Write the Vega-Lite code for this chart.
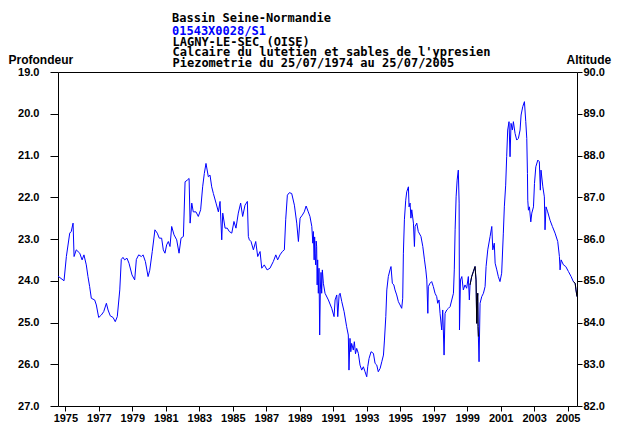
{
  "$schema": "https://vega.github.io/schema/vega-lite/v6.json",
  "width": 519,
  "height": 334,
  "autosize": {"type": "none"},
  "padding": {"left": 58, "top": 72, "right": 46, "bottom": 17},
  "background": "white",
  "config": {
    "view": {"stroke": "#000000", "strokeWidth": 1},
    "axis": {"grid": false, "domain": false, "labelFont": "Liberation Sans", "labelFontWeight": "bold", "labelFontSize": 11, "labelColor": "#000", "tickColor": "#000", "titleFont": "Liberation Sans", "titleFontWeight": "bold", "titleFontSize": 12, "titleColor": "#000"}
  },
  "title": {
    "text": "Bassin Seine-Normandie",
    "subtitle": "01543X0028/S1",
    "anchor": "start",
    "frame": "group",
    "dx": 114,
    "offset": -3,
    "subtitlePadding": 1,
    "font": "DejaVu Sans Mono",
    "fontSize": 12,
    "fontWeight": "bold",
    "color": "#000000",
    "subtitleFont": "DejaVu Sans Mono",
    "subtitleFontSize": 12,
    "subtitleFontWeight": "bold",
    "subtitleColor": "#0000ff"
  },
  "data": {"values": [
    {"a": 1974.56, "p": 23.89, "seg": 0},
    {"a": 1974.92, "p": 24.0, "seg": 0},
    {"a": 1975.06, "p": 23.42, "seg": 0},
    {"a": 1975.26, "p": 22.86, "seg": 0},
    {"a": 1975.35, "p": 22.82, "seg": 0},
    {"a": 1975.46, "p": 22.62, "seg": 0},
    {"a": 1975.52, "p": 23.42, "seg": 0},
    {"a": 1975.65, "p": 23.26, "seg": 0},
    {"a": 1975.86, "p": 23.34, "seg": 0},
    {"a": 1976.0, "p": 23.5, "seg": 0},
    {"a": 1976.11, "p": 23.38, "seg": 0},
    {"a": 1976.25, "p": 23.62, "seg": 0},
    {"a": 1976.35, "p": 23.9, "seg": 0},
    {"a": 1976.45, "p": 24.14, "seg": 0},
    {"a": 1976.55, "p": 24.42, "seg": 0},
    {"a": 1976.75, "p": 24.46, "seg": 0},
    {"a": 1976.85, "p": 24.58, "seg": 0},
    {"a": 1976.99, "p": 24.88, "seg": 0},
    {"a": 1977.15, "p": 24.82, "seg": 0},
    {"a": 1977.29, "p": 24.74, "seg": 0},
    {"a": 1977.45, "p": 24.54, "seg": 0},
    {"a": 1977.55, "p": 24.7, "seg": 0},
    {"a": 1977.68, "p": 24.84, "seg": 0},
    {"a": 1977.85, "p": 24.88, "seg": 0},
    {"a": 1977.98, "p": 24.98, "seg": 0},
    {"a": 1978.1, "p": 24.86, "seg": 0},
    {"a": 1978.25, "p": 24.22, "seg": 0},
    {"a": 1978.34, "p": 23.49, "seg": 0},
    {"a": 1978.44, "p": 23.44, "seg": 0},
    {"a": 1978.54, "p": 23.5, "seg": 0},
    {"a": 1978.68, "p": 23.46, "seg": 0},
    {"a": 1978.8, "p": 23.58, "seg": 0},
    {"a": 1978.98, "p": 23.86, "seg": 0},
    {"a": 1979.14, "p": 23.98, "seg": 0},
    {"a": 1979.24, "p": 23.49, "seg": 0},
    {"a": 1979.38, "p": 23.38, "seg": 0},
    {"a": 1979.54, "p": 23.42, "seg": 0},
    {"a": 1979.64, "p": 23.38, "seg": 0},
    {"a": 1979.78, "p": 23.54, "seg": 0},
    {"a": 1979.94, "p": 23.9, "seg": 0},
    {"a": 1980.04, "p": 23.75, "seg": 0},
    {"a": 1980.19, "p": 23.3, "seg": 0},
    {"a": 1980.35, "p": 22.78, "seg": 0},
    {"a": 1980.49, "p": 22.86, "seg": 0},
    {"a": 1980.61, "p": 22.98, "seg": 0},
    {"a": 1980.75, "p": 22.98, "seg": 0},
    {"a": 1980.85, "p": 23.26, "seg": 0},
    {"a": 1980.95, "p": 23.34, "seg": 0},
    {"a": 1981.05, "p": 23.14, "seg": 0},
    {"a": 1981.15, "p": 23.06, "seg": 0},
    {"a": 1981.25, "p": 23.18, "seg": 0},
    {"a": 1981.35, "p": 22.7, "seg": 0},
    {"a": 1981.49, "p": 22.9, "seg": 0},
    {"a": 1981.65, "p": 23.02, "seg": 0},
    {"a": 1981.79, "p": 23.34, "seg": 0},
    {"a": 1981.91, "p": 22.98, "seg": 0},
    {"a": 1982.05, "p": 22.94, "seg": 0},
    {"a": 1982.15, "p": 21.63, "seg": 0},
    {"a": 1982.28, "p": 21.59, "seg": 0},
    {"a": 1982.39, "p": 21.55, "seg": 0},
    {"a": 1982.45, "p": 22.62, "seg": 0},
    {"a": 1982.55, "p": 22.14, "seg": 0},
    {"a": 1982.64, "p": 22.35, "seg": 0},
    {"a": 1982.8, "p": 22.35, "seg": 0},
    {"a": 1982.94, "p": 22.46, "seg": 0},
    {"a": 1983.08, "p": 22.3, "seg": 0},
    {"a": 1983.2, "p": 21.75, "seg": 0},
    {"a": 1983.3, "p": 21.43, "seg": 0},
    {"a": 1983.4, "p": 21.19, "seg": 0},
    {"a": 1983.54, "p": 21.51, "seg": 0},
    {"a": 1983.64, "p": 21.47, "seg": 0},
    {"a": 1983.74, "p": 21.75, "seg": 0},
    {"a": 1983.84, "p": 21.91, "seg": 0},
    {"a": 1984.0, "p": 22.14, "seg": 0},
    {"a": 1984.14, "p": 22.35, "seg": 0},
    {"a": 1984.24, "p": 22.1, "seg": 0},
    {"a": 1984.34, "p": 23.02, "seg": 0},
    {"a": 1984.4, "p": 22.38, "seg": 0},
    {"a": 1984.54, "p": 22.74, "seg": 0},
    {"a": 1984.67, "p": 22.74, "seg": 0},
    {"a": 1984.79, "p": 22.82, "seg": 0},
    {"a": 1984.94, "p": 22.86, "seg": 0},
    {"a": 1985.07, "p": 22.58, "seg": 0},
    {"a": 1985.19, "p": 22.74, "seg": 0},
    {"a": 1985.33, "p": 22.38, "seg": 0},
    {"a": 1985.47, "p": 22.14, "seg": 0},
    {"a": 1985.59, "p": 22.46, "seg": 0},
    {"a": 1985.73, "p": 22.19, "seg": 0},
    {"a": 1985.87, "p": 22.1, "seg": 0},
    {"a": 1985.93, "p": 22.94, "seg": 0},
    {"a": 1985.99, "p": 23.02, "seg": 0},
    {"a": 1986.09, "p": 23.06, "seg": 0},
    {"a": 1986.23, "p": 23.26, "seg": 0},
    {"a": 1986.37, "p": 23.06, "seg": 0},
    {"a": 1986.49, "p": 23.42, "seg": 0},
    {"a": 1986.63, "p": 23.3, "seg": 0},
    {"a": 1986.73, "p": 23.7, "seg": 0},
    {"a": 1986.88, "p": 23.62, "seg": 0},
    {"a": 1987.05, "p": 23.74, "seg": 0},
    {"a": 1987.22, "p": 23.7, "seg": 0},
    {"a": 1987.42, "p": 23.54, "seg": 0},
    {"a": 1987.57, "p": 23.38, "seg": 0},
    {"a": 1987.68, "p": 23.5, "seg": 0},
    {"a": 1987.82, "p": 23.38, "seg": 0},
    {"a": 1987.96, "p": 23.3, "seg": 0},
    {"a": 1988.08, "p": 23.26, "seg": 0},
    {"a": 1988.16, "p": 22.54, "seg": 0},
    {"a": 1988.26, "p": 21.95, "seg": 0},
    {"a": 1988.38, "p": 21.89, "seg": 0},
    {"a": 1988.52, "p": 21.91, "seg": 0},
    {"a": 1988.68, "p": 22.19, "seg": 0},
    {"a": 1988.82, "p": 22.62, "seg": 0},
    {"a": 1988.92, "p": 23.06, "seg": 0},
    {"a": 1989.02, "p": 22.5, "seg": 0},
    {"a": 1989.15, "p": 22.43, "seg": 0},
    {"a": 1989.27, "p": 22.35, "seg": 0},
    {"a": 1989.38, "p": 22.21, "seg": 0},
    {"a": 1989.51, "p": 22.35, "seg": 0},
    {"a": 1989.61, "p": 22.46, "seg": 0},
    {"a": 1989.72, "p": 22.7, "seg": 0},
    {"a": 1989.78, "p": 23.1, "seg": 0},
    {"a": 1989.81, "p": 22.82, "seg": 0},
    {"a": 1989.86, "p": 23.5, "seg": 0},
    {"a": 1989.89, "p": 22.95, "seg": 0},
    {"a": 1989.91, "p": 23.34, "seg": 0},
    {"a": 1989.95, "p": 23.62, "seg": 0},
    {"a": 1989.98, "p": 23.05, "seg": 0},
    {"a": 1990.01, "p": 23.18, "seg": 0},
    {"a": 1990.04, "p": 24.1, "seg": 0},
    {"a": 1990.07, "p": 23.5, "seg": 0},
    {"a": 1990.11, "p": 24.3, "seg": 0},
    {"a": 1990.15, "p": 23.7, "seg": 0},
    {"a": 1990.19, "p": 25.3, "seg": 0},
    {"a": 1990.23, "p": 24.22, "seg": 0},
    {"a": 1990.27, "p": 23.8, "seg": 0},
    {"a": 1990.31, "p": 24.3, "seg": 0},
    {"a": 1990.35, "p": 23.74, "seg": 0},
    {"a": 1990.41, "p": 24.06, "seg": 0},
    {"a": 1990.51, "p": 24.3, "seg": 0},
    {"a": 1990.71, "p": 24.46, "seg": 0},
    {"a": 1990.91, "p": 24.66, "seg": 0},
    {"a": 1991.05, "p": 24.86, "seg": 0},
    {"a": 1991.11, "p": 24.46, "seg": 0},
    {"a": 1991.21, "p": 24.34, "seg": 0},
    {"a": 1991.27, "p": 24.86, "seg": 0},
    {"a": 1991.35, "p": 24.34, "seg": 0},
    {"a": 1991.41, "p": 24.3, "seg": 0},
    {"a": 1991.51, "p": 24.5, "seg": 0},
    {"a": 1991.65, "p": 24.74, "seg": 0},
    {"a": 1991.8, "p": 25.1, "seg": 0},
    {"a": 1991.9, "p": 25.3, "seg": 0},
    {"a": 1991.94, "p": 26.14, "seg": 0},
    {"a": 1992.0, "p": 25.38, "seg": 0},
    {"a": 1992.05, "p": 25.7, "seg": 0},
    {"a": 1992.1, "p": 25.5, "seg": 0},
    {"a": 1992.2, "p": 25.66, "seg": 0},
    {"a": 1992.26, "p": 25.46, "seg": 0},
    {"a": 1992.33, "p": 25.75, "seg": 0},
    {"a": 1992.4, "p": 25.62, "seg": 0},
    {"a": 1992.5, "p": 25.74, "seg": 0},
    {"a": 1992.6, "p": 26.02, "seg": 0},
    {"a": 1992.7, "p": 26.14, "seg": 0},
    {"a": 1992.8, "p": 26.06, "seg": 0},
    {"a": 1992.9, "p": 26.18, "seg": 0},
    {"a": 1993.0, "p": 26.3, "seg": 0},
    {"a": 1993.06, "p": 26.06, "seg": 0},
    {"a": 1993.14, "p": 25.86, "seg": 0},
    {"a": 1993.26, "p": 25.7, "seg": 0},
    {"a": 1993.4, "p": 25.74, "seg": 0},
    {"a": 1993.5, "p": 25.98, "seg": 0},
    {"a": 1993.6, "p": 26.02, "seg": 0},
    {"a": 1993.69, "p": 26.18, "seg": 0},
    {"a": 1993.8, "p": 26.1, "seg": 0},
    {"a": 1993.9, "p": 25.94, "seg": 0},
    {"a": 1994.0, "p": 25.78, "seg": 0},
    {"a": 1994.06, "p": 25.42, "seg": 0},
    {"a": 1994.14, "p": 24.86, "seg": 0},
    {"a": 1994.2, "p": 24.22, "seg": 0},
    {"a": 1994.29, "p": 23.9, "seg": 0},
    {"a": 1994.39, "p": 23.74, "seg": 0},
    {"a": 1994.45, "p": 23.66, "seg": 0},
    {"a": 1994.53, "p": 24.06, "seg": 0},
    {"a": 1994.62, "p": 24.1, "seg": 0},
    {"a": 1994.69, "p": 24.22, "seg": 0},
    {"a": 1994.79, "p": 24.34, "seg": 0},
    {"a": 1994.89, "p": 24.5, "seg": 0},
    {"a": 1994.99, "p": 24.58, "seg": 0},
    {"a": 1995.09, "p": 24.66, "seg": 0},
    {"a": 1995.15, "p": 24.42, "seg": 0},
    {"a": 1995.19, "p": 23.34, "seg": 0},
    {"a": 1995.25, "p": 22.54, "seg": 0},
    {"a": 1995.33, "p": 22.07, "seg": 0},
    {"a": 1995.39, "p": 21.87, "seg": 0},
    {"a": 1995.49, "p": 21.75, "seg": 0},
    {"a": 1995.53, "p": 22.23, "seg": 0},
    {"a": 1995.59, "p": 22.14, "seg": 0},
    {"a": 1995.64, "p": 22.5, "seg": 0},
    {"a": 1995.69, "p": 22.3, "seg": 0},
    {"a": 1995.79, "p": 22.62, "seg": 0},
    {"a": 1995.85, "p": 23.18, "seg": 0},
    {"a": 1995.89, "p": 22.7, "seg": 0},
    {"a": 1995.99, "p": 22.62, "seg": 0},
    {"a": 1996.08, "p": 22.82, "seg": 0},
    {"a": 1996.24, "p": 22.94, "seg": 0},
    {"a": 1996.35, "p": 23.18, "seg": 0},
    {"a": 1996.45, "p": 23.5, "seg": 0},
    {"a": 1996.53, "p": 23.74, "seg": 0},
    {"a": 1996.59, "p": 23.98, "seg": 0},
    {"a": 1996.65, "p": 24.78, "seg": 0},
    {"a": 1996.68, "p": 24.14, "seg": 0},
    {"a": 1996.78, "p": 24.06, "seg": 0},
    {"a": 1996.88, "p": 24.02, "seg": 0},
    {"a": 1996.98, "p": 24.14, "seg": 0},
    {"a": 1997.08, "p": 24.3, "seg": 0},
    {"a": 1997.18, "p": 24.38, "seg": 0},
    {"a": 1997.24, "p": 24.54, "seg": 0},
    {"a": 1997.32, "p": 24.46, "seg": 0},
    {"a": 1997.38, "p": 24.78, "seg": 0},
    {"a": 1997.48, "p": 25.18, "seg": 0},
    {"a": 1997.54, "p": 24.7, "seg": 0},
    {"a": 1997.62, "p": 25.78, "seg": 0},
    {"a": 1997.68, "p": 24.78, "seg": 0},
    {"a": 1997.78, "p": 24.7, "seg": 0},
    {"a": 1997.88, "p": 24.66, "seg": 0},
    {"a": 1997.98, "p": 24.62, "seg": 0},
    {"a": 1998.08, "p": 24.46, "seg": 0},
    {"a": 1998.18, "p": 24.3, "seg": 0},
    {"a": 1998.23, "p": 23.74, "seg": 0},
    {"a": 1998.28, "p": 22.78, "seg": 0},
    {"a": 1998.34, "p": 21.99, "seg": 0},
    {"a": 1998.4, "p": 21.59, "seg": 0},
    {"a": 1998.47, "p": 21.35, "seg": 0},
    {"a": 1998.52, "p": 22.14, "seg": 0},
    {"a": 1998.54, "p": 25.18, "seg": 0},
    {"a": 1998.6, "p": 23.98, "seg": 0},
    {"a": 1998.68, "p": 23.9, "seg": 0},
    {"a": 1998.77, "p": 24.22, "seg": 0},
    {"a": 1998.87, "p": 24.1, "seg": 0},
    {"a": 1998.97, "p": 24.18, "seg": 0},
    {"a": 1999.07, "p": 23.9, "seg": 0},
    {"a": 1999.13, "p": 24.46, "seg": 0},
    {"a": 1999.17, "p": 24.1, "seg": 1},
    {"a": 1999.27, "p": 23.9, "seg": 1},
    {"a": 1999.37, "p": 23.78, "seg": 1},
    {"a": 1999.47, "p": 23.66, "seg": 1},
    {"a": 1999.53, "p": 23.98, "seg": 1},
    {"a": 1999.57, "p": 25.02, "seg": 1},
    {"a": 1999.6, "p": 24.5, "seg": 1},
    {"a": 1999.63, "p": 24.3, "seg": 1},
    {"a": 1999.65, "p": 25.1, "seg": 1},
    {"a": 1999.67, "p": 25.34, "seg": 1},
    {"a": 1999.71, "p": 25.94, "seg": 0},
    {"a": 1999.77, "p": 24.54, "seg": 0},
    {"a": 1999.87, "p": 24.38, "seg": 0},
    {"a": 1999.97, "p": 24.3, "seg": 0},
    {"a": 2000.07, "p": 24.14, "seg": 0},
    {"a": 2000.13, "p": 23.66, "seg": 0},
    {"a": 2000.23, "p": 23.26, "seg": 0},
    {"a": 2000.37, "p": 22.94, "seg": 0},
    {"a": 2000.47, "p": 22.7, "seg": 0},
    {"a": 2000.53, "p": 23.26, "seg": 0},
    {"a": 2000.62, "p": 23.1, "seg": 0},
    {"a": 2000.67, "p": 23.58, "seg": 0},
    {"a": 2000.77, "p": 23.74, "seg": 0},
    {"a": 2000.86, "p": 23.9, "seg": 0},
    {"a": 2000.96, "p": 24.02, "seg": 0},
    {"a": 2001.06, "p": 23.82, "seg": 0},
    {"a": 2001.16, "p": 22.86, "seg": 0},
    {"a": 2001.22, "p": 22.23, "seg": 0},
    {"a": 2001.3, "p": 21.71, "seg": 0},
    {"a": 2001.36, "p": 21.03, "seg": 0},
    {"a": 2001.42, "p": 20.39, "seg": 0},
    {"a": 2001.5, "p": 20.19, "seg": 0},
    {"a": 2001.56, "p": 21.03, "seg": 0},
    {"a": 2001.62, "p": 20.23, "seg": 0},
    {"a": 2001.7, "p": 20.39, "seg": 0},
    {"a": 2001.76, "p": 20.19, "seg": 0},
    {"a": 2001.86, "p": 20.47, "seg": 0},
    {"a": 2001.96, "p": 20.63, "seg": 0},
    {"a": 2002.06, "p": 20.59, "seg": 0},
    {"a": 2002.16, "p": 20.39, "seg": 0},
    {"a": 2002.22, "p": 20.03, "seg": 0},
    {"a": 2002.32, "p": 19.83, "seg": 0},
    {"a": 2002.42, "p": 19.71, "seg": 0},
    {"a": 2002.5, "p": 20.19, "seg": 0},
    {"a": 2002.56, "p": 20.59, "seg": 0},
    {"a": 2002.6, "p": 21.43, "seg": 0},
    {"a": 2002.62, "p": 22.07, "seg": 0},
    {"a": 2002.66, "p": 22.31, "seg": 0},
    {"a": 2002.72, "p": 22.23, "seg": 0},
    {"a": 2002.8, "p": 22.59, "seg": 0},
    {"a": 2002.86, "p": 22.38, "seg": 0},
    {"a": 2002.96, "p": 22.23, "seg": 0},
    {"a": 2003.02, "p": 21.67, "seg": 0},
    {"a": 2003.1, "p": 21.27, "seg": 0},
    {"a": 2003.22, "p": 21.11, "seg": 0},
    {"a": 2003.31, "p": 21.15, "seg": 0},
    {"a": 2003.37, "p": 21.83, "seg": 0},
    {"a": 2003.41, "p": 21.35, "seg": 0},
    {"a": 2003.52, "p": 21.75, "seg": 0},
    {"a": 2003.61, "p": 21.99, "seg": 0},
    {"a": 2003.65, "p": 22.78, "seg": 0},
    {"a": 2003.71, "p": 22.23, "seg": 0},
    {"a": 2003.81, "p": 22.35, "seg": 0},
    {"a": 2003.95, "p": 22.55, "seg": 0},
    {"a": 2004.09, "p": 22.7, "seg": 0},
    {"a": 2004.25, "p": 22.86, "seg": 0},
    {"a": 2004.41, "p": 23.06, "seg": 0},
    {"a": 2004.51, "p": 23.42, "seg": 0},
    {"a": 2004.55, "p": 23.74, "seg": 0},
    {"a": 2004.61, "p": 23.5, "seg": 0},
    {"a": 2004.75, "p": 23.62, "seg": 0},
    {"a": 2004.89, "p": 23.66, "seg": 0},
    {"a": 2005.05, "p": 23.78, "seg": 0},
    {"a": 2005.21, "p": 23.9, "seg": 0},
    {"a": 2005.34, "p": 24.02, "seg": 2},
    {"a": 2005.45, "p": 24.06, "seg": 2},
    {"a": 2005.5, "p": 24.22, "seg": 2},
    {"a": 2005.56, "p": 24.38, "seg": 2}
  ]},
  "resolve": {"axis": {"x": "independent", "y": "independent"}},
  "layer": [
    {
      "mark": {"type": "line", "color": "#0000ff", "strokeWidth": 1, "clip": true},
      "encoding": {
        "x": {"field": "a", "type": "quantitative",
          "scale": {"domain": [1974.56, 2005.56], "nice": false, "zero": false},
          "axis": {"orient": "bottom", "values": [1975, 1977, 1979, 1981, 1983, 1985, 1987, 1989, 1991, 1993, 1995, 1997, 1999, 2001, 2003, 2005], "format": "d", "labelFlush": false, "tickSize": 5, "labelPadding": 1, "title": null}},
        "y": {"field": "p", "type": "quantitative",
          "scale": {"domain": [19, 27], "reverse": true, "nice": false, "zero": false},
          "axis": {"orient": "left", "values": [19, 20, 21, 22, 23, 24, 25, 26, 27], "format": ".1f", "tickSize": 8, "labelPadding": 11,
            "title": "Profondeur", "titleAngle": 0, "titleAlign": "left", "titleBaseline": "alphabetic", "titleX": -50, "titleY": -9}}
      }
    },
    {
      "transform": [{"filter": "datum.seg > 0"}],
      "mark": {"type": "line", "color": "#000000", "strokeWidth": 1, "clip": true},
      "encoding": {
        "detail": {"field": "seg", "type": "nominal"},
        "x": {"field": "a", "type": "quantitative",
          "scale": {"domain": [1974.56, 2005.56], "nice": false, "zero": false},
          "axis": {"orient": "top", "labels": false, "ticks": false, "domain": false,
            "title": ["LAGNY-LE-SEC (OISE)", "Calcaire du lutetien et sables de l'ypresien", "Piezometrie du 25/07/1974 au 25/07/2005"],
            "titleFont": "DejaVu Sans Mono", "titleFontSize": 12, "titleFontWeight": "bold", "titleLineHeight": 10.5,
            "titleAnchor": "start", "titleAlign": "left", "titleX": 114, "titlePadding": 3}},
        "y": {"field": "p", "type": "quantitative",
          "scale": {"domain": [19, 27], "reverse": true, "nice": false, "zero": false},
          "axis": {"orient": "right", "values": [19, 20, 21, 22, 23, 24, 25, 26, 27], "labelExpr": "format(109 - datum.value, '.1f')", "tickSize": 5, "labelPadding": 1,
            "title": "Altitude", "titleAngle": 0, "titleAlign": "left", "titleBaseline": "alphabetic", "titleX": -11, "titleY": -9}}
      }
    }
  ]
}
